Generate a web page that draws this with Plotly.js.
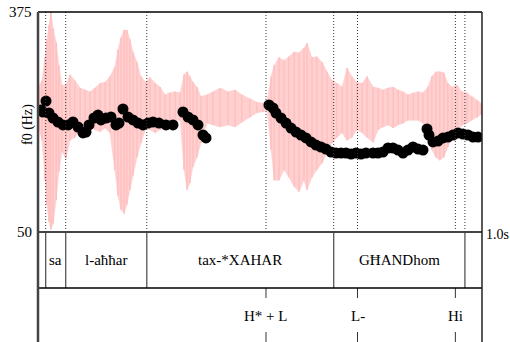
<!DOCTYPE html>
<html>
<head>
<meta charset="utf-8">
<script src="https://cdn.plot.ly/plotly-3.0.1.min.js"></script>
<style>html,body{margin:0;padding:0;background:#fff}#chart{width:510px;height:342px}</style>
</head>
<body>
<div id="chart"></div>
<script>
// ---- data ----
const f0Range = [50, 375];
const yTickLabels = ['375', '50'];
const endTimeLabel = '1.0s';

const wordBounds = [0.0173, 0.0624, 0.2450, 0.6660, 0.9615];
const words = ['sa', 'l-aħħar', 'tax-*XAHAR', 'GĦANDhom'];

const toneTimes = [0.5135, 0.7196, 0.9400];
const tones = ['H* + L', 'L-', 'Hi'];

const f0Time = [0.0068, 0.0113, 0.018, 0.0248, 0.0338, 0.045, 0.0563, 0.0676, 0.0788, 0.0901,
  0.1014, 0.1081, 0.1149, 0.1261, 0.1351, 0.1419, 0.1532, 0.1644, 0.1757, 0.1824,
  0.1914, 0.2027, 0.214, 0.2252, 0.2365, 0.2477, 0.259, 0.2725, 0.2883, 0.304,
  0.3266, 0.3378, 0.3491, 0.3604, 0.3716, 0.3784,
  0.5203, 0.5293, 0.536, 0.5473, 0.5586, 0.5698, 0.5811, 0.5923, 0.6036, 0.6149,
  0.6261, 0.6374, 0.6486, 0.6599, 0.6712, 0.6824, 0.6937, 0.705, 0.7162, 0.7275,
  0.7387, 0.7545, 0.7658, 0.777, 0.7883, 0.7995, 0.8108, 0.8221, 0.8333, 0.8446,
  0.8559, 0.8671, 0.8761, 0.8806, 0.8896, 0.9009, 0.9122, 0.9234, 0.9347, 0.9459,
  0.9572, 0.9685, 0.9797, 0.991];
const f0Hz = [230.2, 227.3, 243.5, 225.8, 218.4, 212.5, 208.1, 208.1, 212.5, 205.1,
  196.3, 197.7, 208.1, 218.4, 222.8, 215.5, 218.4, 219.9, 208.1, 211.0,
  231.7, 219.9, 215.5, 211.0, 208.1, 211.0, 212.5, 211.0, 208.1, 208.1,
  227.3, 219.9, 215.5, 208.1, 193.3, 188.9,
  237.6, 233.2, 225.8, 218.4, 211.0, 203.6, 197.7, 193.3, 188.9, 183.0,
  178.5, 175.6, 172.6, 168.2, 166.7, 166.7, 166.7, 165.2, 166.7, 165.2,
  166.7, 166.7, 166.7, 168.2, 174.1, 174.1, 171.1, 166.7, 171.1, 175.6,
  172.6, 171.1, 202.2, 193.3, 183.0, 184.4, 188.9, 190.3, 193.3, 196.3,
  194.8, 193.3, 190.3, 190.3];

const waveTime = [0.000, 0.009, 0.016, 0.020, 0.025, 0.029, 0.034, 0.041, 0.047, 0.054,
  0.063, 0.072, 0.083, 0.095, 0.106, 0.117, 0.128, 0.140, 0.151, 0.162,
  0.173, 0.180, 0.187, 0.194, 0.200, 0.207, 0.214, 0.223, 0.232, 0.243,
  0.252, 0.264, 0.275, 0.286, 0.297, 0.309, 0.320, 0.329, 0.336, 0.342,
  0.349, 0.358, 0.367, 0.381, 0.394, 0.410, 0.428, 0.444, 0.459, 0.477,
  0.493, 0.507, 0.516, 0.525, 0.532, 0.543, 0.554, 0.565, 0.577, 0.588,
  0.599, 0.606, 0.617, 0.628, 0.640, 0.651, 0.662, 0.673, 0.685, 0.696,
  0.707, 0.718, 0.730, 0.741, 0.755, 0.766, 0.777, 0.788, 0.800, 0.811,
  0.822, 0.833, 0.845, 0.856, 0.867, 0.878, 0.887, 0.896, 0.905, 0.914,
  0.923, 0.932, 0.944, 0.955, 0.966, 0.977, 0.989, 0.998];
const waveTop = [0.20, 0.28, 0.52, 0.71, 0.86, 1.00, 0.83, 0.68, 0.44, 0.23,
  0.23, 0.34, 0.28, 0.20, 0.18, 0.16, 0.20, 0.25, 0.26, 0.32,
  0.42, 0.60, 0.73, 0.81, 0.81, 0.71, 0.58, 0.47, 0.32, 0.26,
  0.31, 0.25, 0.21, 0.13, 0.15, 0.16, 0.15, 0.34, 0.37, 0.32,
  0.26, 0.21, 0.11, 0.13, 0.16, 0.20, 0.16, 0.18, 0.13, 0.09,
  0.05, 0.04, 0.07, 0.32, 0.44, 0.52, 0.49, 0.53, 0.58, 0.57,
  0.62, 0.67, 0.52, 0.53, 0.47, 0.37, 0.28, 0.25, 0.21, 0.41,
  0.32, 0.26, 0.25, 0.32, 0.21, 0.20, 0.18, 0.20, 0.21, 0.18,
  0.16, 0.13, 0.15, 0.16, 0.15, 0.21, 0.32, 0.37, 0.37, 0.36,
  0.25, 0.21, 0.23, 0.16, 0.15, 0.11, 0.07, 0.04];
const waveBottom = [-0.19, -0.35, -0.77, -1.03, -1.21, -1.29, -1.23, -0.98, -0.68, -0.47,
  -0.54, -0.35, -0.32, -0.24, -0.21, -0.19, -0.24, -0.26, -0.22, -0.27,
  -0.66, -0.93, -1.08, -1.12, -1.03, -0.87, -0.72, -0.53, -0.38, -0.22,
  -0.24, -0.27, -0.24, -0.19, -0.17, -0.14, -0.14, -0.66, -0.87, -0.80,
  -0.63, -0.53, -0.38, -0.17, -0.19, -0.21, -0.19, -0.21, -0.16, -0.11,
  -0.06, -0.05, -0.03, -0.45, -0.77, -0.77, -0.66, -0.74, -0.84, -0.89,
  -0.77, -0.87, -0.74, -0.66, -0.59, -0.48, -0.38, -0.32, -0.27, -0.35,
  -0.32, -0.24, -0.27, -0.32, -0.37, -0.24, -0.21, -0.19, -0.22, -0.19,
  -0.17, -0.14, -0.14, -0.14, -0.17, -0.24, -0.45, -0.53, -0.56, -0.53,
  -0.42, -0.32, -0.27, -0.19, -0.17, -0.14, -0.11, -0.08];
const waveRange = [-1.316, 1];

// ---- layout geometry (paper fractions) ----
const pitchBottom = 0.3333;   // bottom of the f0 panel
const wordBottom = 0.1636;    // bottom of the word tier
const font = 'Liberation Serif, Times New Roman, serif';
const pink = '#ffb8b8';

const traces = [
  // waveform envelope + striations (bars)
  {x: waveTime, y: waveBottom, yaxis: 'y', type: 'scatter', mode: 'lines',
   line: {color: 'rgba(255,195,195,0.8)', width: 0.5}, hoverinfo: 'skip', showlegend: false},
  {x: waveTime, y: waveTop, yaxis: 'y', type: 'scatter', mode: 'lines', fill: 'tonexty',
   fillcolor: 'rgba(255,195,195,0.78)', line: {color: 'rgba(255,195,195,0.8)', width: 0.5}, hoverinfo: 'skip', showlegend: false},
  {x: waveTime, base: waveBottom, y: waveTop.map((v, i) => v - waveBottom[i]), yaxis: 'y', type: 'bar',
   width: 0.0036, marker: {color: pink, line: {width: 0}}, hoverinfo: 'skip', showlegend: false},
  // f0 track
  {x: f0Time, y: f0Hz, yaxis: 'y2', type: 'scatter', mode: 'markers',
   marker: {color: '#000', size: 11}, showlegend: false}
];

const shapes = [];
// dotted lines through the pitch panel
[...wordBounds, ...toneTimes].forEach(t => {
  shapes.push({type: 'line', xref: 'x', yref: 'paper', x0: t, x1: t, y0: pitchBottom, y1: 1,
    line: {color: '#333', width: 1, dash: '1px,2px'}, layer: 'above'});
});
// word tier boundaries
wordBounds.forEach(t => {
  shapes.push({type: 'line', xref: 'x', yref: 'paper', x0: t, x1: t, y0: wordBottom, y1: pitchBottom,
    line: {color: '#555', width: 1.3}});
});
// tone tier ticks
toneTimes.forEach(t => {
  shapes.push({type: 'line', xref: 'x', yref: 'paper', x0: t, x1: t, y0: 0.1333, y1: wordBottom,
    line: {color: '#333', width: 1}});
  shapes.push({type: 'line', xref: 'x', yref: 'paper', x0: t, x1: t, y0: 0, y1: 0.0303,
    line: {color: '#333', width: 1}});
});
// frame
shapes.push({type: 'line', xref: 'paper', yref: 'paper', x0: 0, x1: 1, y0: 1, y1: 1, line: {color: '#000', width: 1.5}, layer: 'above'});
shapes.push({type: 'line', xref: 'paper', yref: 'paper', x0: 0, x1: 1, y0: pitchBottom, y1: pitchBottom, line: {color: '#444', width: 1.8}, layer: 'above'});
shapes.push({type: 'line', xref: 'paper', yref: 'paper', x0: 0, x1: 1, y0: wordBottom, y1: wordBottom, line: {color: '#000', width: 1.5}});
shapes.push({type: 'line', xref: 'paper', yref: 'paper', x0: 0, x1: 0, y0: 0, y1: 1, line: {color: '#444', width: 2.5}, layer: 'above'});
shapes.push({type: 'line', xref: 'paper', yref: 'paper', x0: 1, x1: 1, y0: 0, y1: 1, line: {color: '#222', width: 1.5}, layer: 'above'});

const annotations = [];
words.forEach((w, i) => {
  annotations.push({xref: 'x', yref: 'paper', x: (wordBounds[i] + wordBounds[i + 1]) / 2, y: 0.2485,
    text: w, showarrow: false, xanchor: 'center', yanchor: 'middle', font: {family: font, size: 15, color: '#000'}});
});
tones.forEach((w, i) => {
  annotations.push({xref: 'x', yref: 'paper', x: toneTimes[i], y: 0.0788,
    text: w, showarrow: false, xanchor: 'center', yanchor: 'middle', font: {family: font, size: 15, color: '#000'}});
});
annotations.push({xref: 'paper', yref: 'paper', x: -0.009, y: 1, text: yTickLabels[0], showarrow: false,
  xanchor: 'right', yanchor: 'middle', font: {family: font, size: 15, color: '#000'}});
annotations.push({xref: 'paper', yref: 'paper', x: -0.009, y: pitchBottom, text: yTickLabels[1], showarrow: false,
  xanchor: 'right', yanchor: 'middle', font: {family: font, size: 15, color: '#000'}});
annotations.push({xref: 'paper', yref: 'paper', x: -0.0225, y: 0.6576, text: 'f0 (Hz)', textangle: -90, showarrow: false,
  xanchor: 'center', yanchor: 'middle', font: {family: font, size: 14, color: '#000'}});
annotations.push({xref: 'paper', yref: 'paper', x: 1.004, y: 0.327, text: endTimeLabel, showarrow: false,
  xanchor: 'left', yanchor: 'middle', font: {family: font, size: 14, color: '#000'}});

const layout = {
  width: 510, height: 342,
  margin: {l: 38, r: 28, t: 12, b: 0, pad: 0},
  paper_bgcolor: '#fff', plot_bgcolor: 'rgba(0,0,0,0)',
  showlegend: false,
  barmode: 'overlay',
  xaxis: {range: [0, 1], visible: false, fixedrange: true},
  yaxis: {range: waveRange, domain: [pitchBottom, 1], visible: false, fixedrange: true},
  yaxis2: {range: f0Range, overlaying: 'y', visible: false, fixedrange: true},
  shapes: shapes,
  annotations: annotations
};

Plotly.newPlot('chart', traces, layout, {staticPlot: true, displayModeBar: false});
</script>
</body>
</html>
